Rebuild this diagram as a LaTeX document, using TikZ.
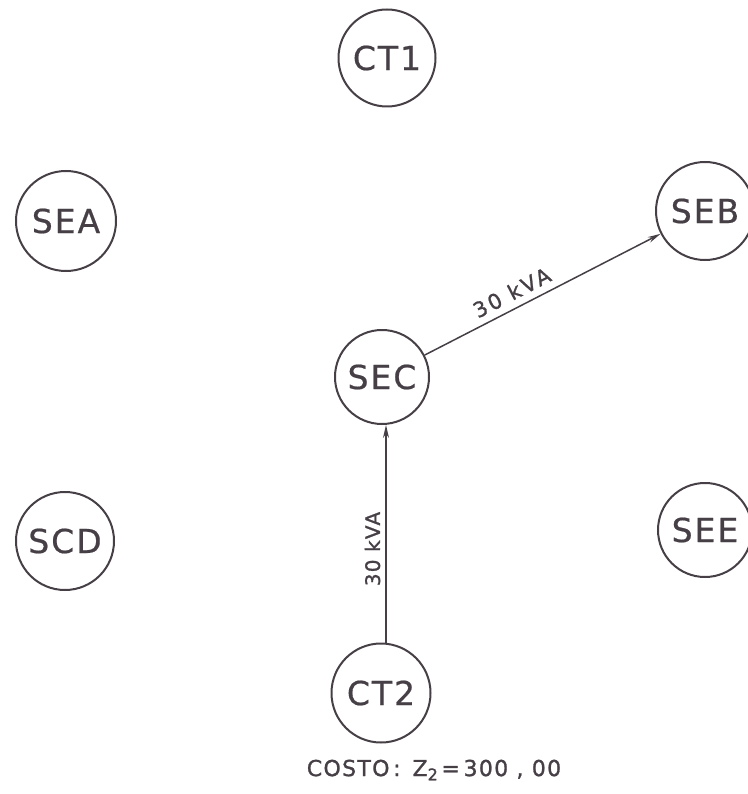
\documentclass[tikz,border=0pt]{standalone}
\usepackage{fontspec}
\setmainfont{DejaVu Sans}
\newfontfamily\lettering[FakeBold=0.6,LetterSpace=6]{DejaVu Sans}
\newfontfamily\labelfont[FakeBold=1.2,LetterSpace=13]{DejaVu Sans}
\newfontfamily\labelfontv[FakeBold=1.2,LetterSpace=6]{DejaVu Sans}
\newfontfamily\costfont[FakeBold=1.2,LetterSpace=6]{DejaVu Sans}
\usetikzlibrary{arrows.meta}
\definecolor{ink}{RGB}{70,64,70}
\tikzset{
  station/.style={circle, draw=ink, line width=2pt, text=ink, minimum size=#1, inner sep=0pt,
    font=\lettering\fontsize{33}{33}\selectfont},
  station/.default=98pt,
  flow/.style={draw=ink, line width=1.5pt, -{Stealth[length=13pt,width=6pt]}},
  flowlabel/.style={text=ink, font=\labelfont\fontsize{21}{21}\selectfont, inner sep=7pt},
  flowlabelv/.style={text=ink, font=\labelfontv\fontsize{20}{20}\selectfont, inner sep=5pt}
}
\begin{document}
\begin{tikzpicture}[x=1pt,y=-1pt]
\useasboundingbox (0,0) rectangle (747,794);
\node[station=97pt] (CT1) at (387,58) {CT1};
\node[station=100pt] (SEA) at (66,221) {SEA};
\node[station=98pt] (SEB) at (705,211) {SEB};
\node[station=94pt] (SEC) at (382,377) {SEC};
\node[station=98pt] (SCD) at (65,541) {SCD};
\node[station=94pt] (SEE) at (705,530) {SEE};
\node[station=99pt] (CT2) at (381,693) {CT2};
\draw[flow] (SEC) -- node[flowlabel, pos=0.4, above, sloped] {30 kVA} (SEB);
\draw[flow] ([xshift=5pt]CT2.north) -- node[flowlabelv, pos=0.43, above, sloped] {30 kVA} ([xshift=4pt]SEC.south);
\node[text=ink, font=\costfont\fontsize{22}{22}\selectfont] (cost) at (434,770)
  {COSTO\,:\, Z\raisebox{-0.35ex}{\fontsize{16}{16}\selectfont 2}\,=\,300 , 00};
\end{tikzpicture}
\end{document}
